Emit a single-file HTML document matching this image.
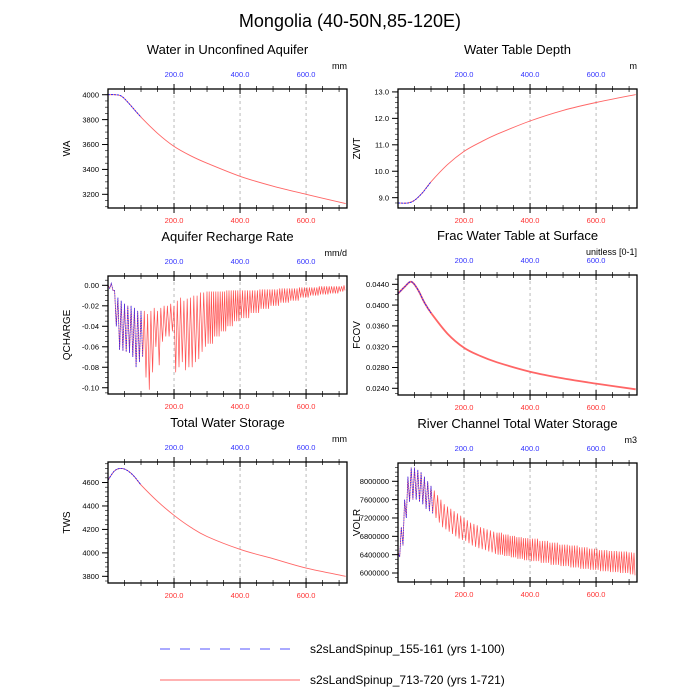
<!DOCTYPE html>
<html><head><meta charset="utf-8"><style>
body{margin:0;background:#fff}
svg{display:block;font-family:"Liberation Sans",sans-serif}
</style></head><body>
<svg id="chart" width="700" height="700" viewBox="0 0 700 700">
<text x="350" y="27" font-size="18" text-anchor="middle">Mongolia (40-50N,85-120E)</text>
<g id="panels"></g>
<g>
<line x1="160" y1="649" x2="296" y2="649" stroke="#5555ff" stroke-width="1" stroke-dasharray="10,10"/>
<text x="310" y="653" font-size="12">s2sLandSpinup_155-161 (yrs 1-100)</text>
<line x1="160" y1="680" x2="300" y2="680" stroke="#ff6666" stroke-width="1"/>
<text x="310" y="684" font-size="12">s2sLandSpinup_713-720 (yrs 1-721)</text>
</g>
</svg>
<script>
// ---- data ----
const xTicks = [200, 400, 600];
const xTickLabels = ["200.0", "400.0", "600.0"];
const smoothYears = [0, 20, 40, 60, 80, 100, 150, 200, 250, 300, 400, 500, 600, 720];
const waValues = [4000, 4000, 3990, 3940, 3880, 3820, 3690, 3585, 3510, 3450, 3345, 3265, 3200, 3125];
const zwtYears = [0, 30, 50, 75, 100, 150, 200, 250, 300, 400, 500, 600, 720];
const zwtValues = [8.8, 8.8, 8.9, 9.2, 9.6, 10.25, 10.75, 11.1, 11.4, 11.9, 12.3, 12.6, 12.9];
const fcovValues = [0.0422, 0.0435, 0.0445, 0.0430, 0.0405, 0.0385, 0.0345, 0.0318, 0.0302, 0.0290, 0.0272, 0.0259, 0.0249, 0.0238];
const twsValues = [4620, 4700, 4720, 4700, 4650, 4580, 4440, 4320, 4220, 4140, 4030, 3950, 3870, 3800];
const osYears = [0,10,20,30,40,50,60,70,80,90,100,110,120,130,140,150,160,170,180,190,200,210,220,230,240,250,260,270,280,290,300,320,340,360,380,400,430,460,490,520,550,580,610,640,670,700,715];
const qHi = [0,0.002,-0.005,-0.012,-0.015,-0.018,-0.02,-0.02,-0.022,-0.025,-0.025,-0.025,-0.028,-0.025,-0.022,-0.025,-0.022,-0.02,-0.02,-0.018,-0.02,-0.015,-0.012,-0.015,-0.013,-0.012,-0.01,-0.01,-0.007,-0.007,-0.006,-0.006,-0.006,-0.005,-0.005,-0.005,-0.005,-0.004,-0.004,-0.003,-0.003,-0.002,-0.002,-0.001,-0.001,-0.001,0];
const qLo = [-0.003,-0.005,-0.04,-0.063,-0.064,-0.065,-0.066,-0.07,-0.08,-0.075,-0.07,-0.09,-0.102,-0.085,-0.06,-0.078,-0.055,-0.05,-0.05,-0.045,-0.085,-0.08,-0.075,-0.083,-0.08,-0.08,-0.075,-0.072,-0.065,-0.06,-0.057,-0.05,-0.045,-0.04,-0.035,-0.032,-0.027,-0.023,-0.02,-0.017,-0.015,-0.012,-0.01,-0.009,-0.008,-0.006,-0.005];
const vHi = [6.45e6,7.0e6,7.6e6,8.1e6,8.3e6,8.3e6,8.25e6,8.2e6,8.1e6,8.0e6,7.9e6,7.8e6,7.7e6,7.6e6,7.5e6,7.45e6,7.4e6,7.35e6,7.3e6,7.25e6,7.2e6,7.15e6,7.1e6,7.07e6,7.04e6,7.0e6,6.98e6,6.95e6,6.93e6,6.9e6,6.88e6,6.84e6,6.81e6,6.78e6,6.76e6,6.75e6,6.7e6,6.66e6,6.62e6,6.6e6,6.56e6,6.53e6,6.5e6,6.48e6,6.47e6,6.45e6,6.44e6];
const vLo = [6.35e6,6.6e6,7.2e6,7.55e6,7.6e6,7.6e6,7.55e6,7.5e6,7.4e6,7.35e6,7.3e6,7.2e6,7.1e6,7.0e6,6.95e6,6.9e6,6.85e6,6.8e6,6.75e6,6.72e6,6.7e6,6.65e6,6.6e6,6.57e6,6.54e6,6.52e6,6.5e6,6.47e6,6.45e6,6.42e6,6.4e6,6.37e6,6.34e6,6.31e6,6.28e6,6.26e6,6.22e6,6.18e6,6.15e6,6.12e6,6.09e6,6.07e6,6.04e6,6.02e6,6.0e6,5.97e6,5.95e6];

const NS = "http://www.w3.org/2000/svg";
const root = document.getElementById("panels");
function mk(tag, attrs, parent) {
  const e = document.createElementNS(NS, tag);
  for (const k in attrs) e.setAttribute(k, attrs[k]);
  parent.appendChild(e);
  return e;
}
function smoothPath(pts) {
  if (!pts.length) return "";
  let d = "M" + pts[0][0].toFixed(1) + "," + pts[0][1].toFixed(1);
  for (let i = 0; i < pts.length - 1; i++) {
    const p0 = pts[Math.max(0, i - 1)], p1 = pts[i], p2 = pts[i + 1], p3 = pts[Math.min(pts.length - 1, i + 2)];
    const c1 = [p1[0] + (p2[0] - p0[0]) / 6, p1[1] + (p2[1] - p0[1]) / 6];
    const c2 = [p2[0] - (p3[0] - p1[0]) / 6, p2[1] - (p3[1] - p1[1]) / 6];
    d += " C" + c1.map(v => v.toFixed(1)).join(",") + " " + c2.map(v => v.toFixed(1)).join(",") + " " + p2[0].toFixed(1) + "," + p2[1].toFixed(1);
  }
  return d;
}

const panels = [
  {name:"wa", title:"Water in Unconfined Aquifer", ylab:"WA", unit:"mm", x0:108, x1:347, y0:89, y1:208, vTop:4046, vBot:3090, ticks:[3200,3400,3600,3800,4000], dec:0, minor:50, kind:"line", xs:smoothYears, ys:waValues},
  {name:"zwt", title:"Water Table Depth", ylab:"ZWT", unit:"m", x0:398, x1:637, y0:89, y1:208, vTop:13.11, vBot:8.61, ticks:[9,10,11,12,13], dec:1, minor:0.2, kind:"line", xs:zwtYears, ys:zwtValues},
  {name:"qcharge", title:"Aquifer Recharge Rate", ylab:"QCHARGE", unit:"mm/d", x0:108, x1:347, y0:276, y1:394, vTop:0.0091, vBot:-0.1061, ticks:[-0.1,-0.08,-0.06,-0.04,-0.02,0], dec:2, minor:0.005, kind:"osc", xs:osYears, hi:qHi, lo:qLo},
  {name:"fcov", title:"Frac Water Table at Surface", ylab:"FCOV", unit:"unitless [0-1]", x0:398, x1:637, y0:275, y1:395, vTop:0.04579, vBot:0.02271, ticks:[0.024,0.028,0.032,0.036,0.04,0.044], dec:4, minor:0.001, kind:"line", thick:true, xs:smoothYears, ys:fcovValues},
  {name:"tws", title:"Total Water Storage", ylab:"TWS", unit:"mm", x0:108, x1:347, y0:462, y1:583, vTop:4775, vBot:3743, ticks:[3800,4000,4200,4400,4600], dec:0, minor:40, kind:"line", xs:smoothYears, ys:twsValues},
  {name:"volr", title:"River Channel Total Water Storage", ylab:"VOLR", unit:"m3", x0:398, x1:637, y0:463, y1:582, vTop:8.399e6, vBot:5.804e6, ticks:[6e6,6.4e6,6.8e6,7.2e6,7.6e6,8e6], dec:0, minor:1e5, kind:"osc", xs:osYears, hi:vHi, lo:vLo}
];

panels.forEach(p => {
  const g = mk("g", {}, root);
  
  
  const X = v => p.x0 + (v - 0) / 724 * (p.x1 - p.x0);
  const Y = v => p.y0 + (p.vTop - v) / (p.vTop - p.vBot) * (p.y1 - p.y0);
  const cx = (p.x0 + p.x1) / 2;
  const t = mk("text", {x:cx, y:p.y0 - 35, "font-size":13, "text-anchor":"middle"}, g);
  t.textContent = p.title;
  
  
  const u = mk("text", {x:p.x1, y:p.y0 - 20, "font-size":9, "text-anchor":"end"}, g);
  u.textContent = p.unit;
  
  
  const yl = mk("text", {x:0, y:0, "font-size":10, "text-anchor":"middle", transform:`translate(${p.x0-38},${(p.y0+p.y1)/2}) rotate(-90)`}, g);
  yl.textContent = p.ylab;
  
  
  xTicks.forEach((v, i) => {
    const gl = mk("line", {x1:X(v), x2:X(v), y1:p.y0, y2:p.y1, stroke:"#aaa", "stroke-width":0.8, "stroke-dasharray":"3,3"}, g);
    
    
    mk("line", {x1:X(v), x2:X(v), y1:p.y0 - 5, y2:p.y0 + 5, stroke:"#000", "stroke-width":1}, g);
    mk("line", {x1:X(v), x2:X(v), y1:p.y1 - 5, y2:p.y1 + 5, stroke:"#000", "stroke-width":1}, g);
    const tt = mk("text", {x:X(v), y:p.y0 - 12, "font-size":7.5, fill:"#3333ff", "text-anchor":"middle"}, g);
    tt.textContent = xTickLabels[i];
    
    
    const tb = mk("text", {x:X(v), y:p.y1 + 15, "font-size":7.5, fill:"#ff3333", "text-anchor":"middle"}, g);
    tb.textContent = xTickLabels[i];
    
    
  });
  for (let v = 50; v < 724; v += 50) {
    if (v % 200 === 0) continue;
    mk("line", {x1:X(v), x2:X(v), y1:p.y0 - 3, y2:p.y0 + 3, stroke:"#000", "stroke-width":0.7}, g);
    mk("line", {x1:X(v), x2:X(v), y1:p.y1 - 3, y2:p.y1 + 3, stroke:"#000", "stroke-width":0.7}, g);
  }
  for (let v = Math.ceil(p.vBot / p.minor) * p.minor; v <= p.vTop; v += p.minor) {
    mk("line", {x1:p.x0 - 3, x2:p.x0, y1:Y(v), y2:Y(v), stroke:"#000", "stroke-width":0.6}, g);
  }
  p.ticks.forEach(v => {
    mk("line", {x1:p.x0 - 6, x2:p.x0, y1:Y(v), y2:Y(v), stroke:"#000", "stroke-width":1}, g);
    const yt = mk("text", {x:p.x0 - 9, y:Y(v) + 2.7, "font-size":7.5, "text-anchor":"end"}, g);
    yt.textContent = v.toFixed(p.dec);
    
    
  });
  let red, blue;
  if (p.kind === "line") {
    const redPts = [], bluePts = [];
    p.xs.forEach((x, i) => {
      redPts.push([X(x), Y(p.ys[i])]);
      if (x <= 100) bluePts.push([X(x), Y(p.ys[i])]);
    });
    red = mk("path", {d:smoothPath(redPts), fill:"none", stroke:"#ff5555", "stroke-width":p.thick ? 1.8 : 0.9, "stroke-opacity":0.9}, g);
    blue = mk("path", {d:smoothPath(bluePts), fill:"none", stroke:"#2222ff", "stroke-width":0.9, "stroke-dasharray":"2,1"}, g);
  } else {
    const redPts = [], bluePts = [];
    p.xs.forEach((x, i) => {
      const step = i < p.xs.length - 1 ? (p.xs[i+1] - x) : 6;
      const n = Math.max(1, Math.round(step / 7));
      for (let k = 0; k < n; k++) {
        const xa = x + k * step / n;
        const pa = [X(xa), Y(p.hi[i])], pb = [X(xa + step / n / 2), Y(p.lo[i])];
        redPts.push(pa, pb);
        if (xa <= 100) bluePts.push(pa, pb);
      }
    });
    const toStr = a => a.map(q => q[0].toFixed(1) + "," + q[1].toFixed(1)).join(" ");
    red = mk("polyline", {points:toStr(redPts), fill:"none", stroke:"#ff3333", "stroke-width":0.7, "stroke-opacity":0.85}, g);
    blue = mk("polyline", {points:toStr(bluePts), fill:"none", stroke:"#2222ff", "stroke-width":0.7, "stroke-dasharray":"1.5,1"}, g);
  }
  
  
  
  
  const fr = mk("rect", {x:p.x0, y:p.y0, width:p.x1 - p.x0, height:p.y1 - p.y0, fill:"none", stroke:"#000", "stroke-width":1.3}, g);
  
  
});
</script>
</body></html>
